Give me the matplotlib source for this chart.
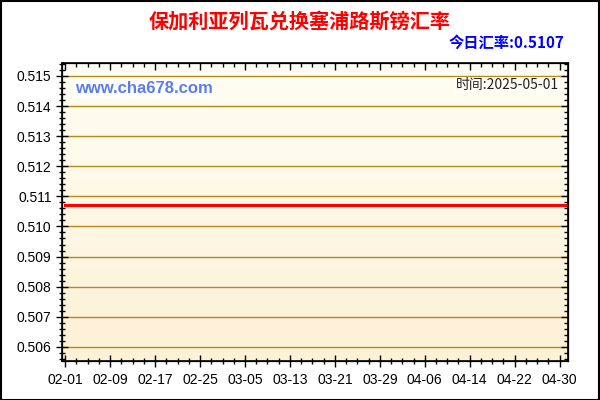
import numpy as np
import pandas as pd
import matplotlib
matplotlib.use("Agg")
import matplotlib.pyplot as plt
import matplotlib.dates as mdates
from matplotlib.patches import Rectangle
from matplotlib.ticker import MultipleLocator, FormatStrFormatter

plt.rcParams['font.family'] = ['Liberation Sans', 'Noto Sans CJK SC', 'DejaVu Sans']

# data
dates = pd.date_range("2025-02-01", "2025-05-01", freq="D")
rates = [0.5107] * len(dates)
tick_dates = pd.date_range("2025-02-01", "2025-04-30", freq="8D")
tick_labels = [d.strftime("%m-%d") for d in tick_dates]
title = "保加利亚列瓦兑换塞浦路斯镑汇率"
today_text = "今日汇率:0.5107"
time_text = "时间:2025-05-01"
site = "www.cha678.com"

fig = plt.figure(figsize=(6, 4), dpi=100)
fig.patch.set_facecolor("white")
fig.add_artist(Rectangle((0.001, 0.001), 0.997, 0.997, transform=fig.transFigure,
                         fill=False, edgecolor="black", lw=1.5))

ax = fig.add_axes([0.1033, 0.0975, 0.8434, 0.745])

# gradient background
grad = np.linspace(0, 1, 256).reshape(-1, 1)
top = np.array([255, 254, 244]) / 255
bot = np.array([253, 241, 214]) / 255
img = top + (bot - top) * grad[:, :, None]
ax.imshow(img, extent=[0, 1, 0, 1], transform=ax.transAxes, aspect="auto", zorder=0)

ylim = (0.50553, 0.51543)
xlim = (dates[0] - pd.Timedelta(hours=14), dates[-1] + pd.Timedelta(hours=12))
ax.set_ylim(*ylim)
ax.set_xlim(*xlim)

ax.yaxis.set_major_locator(MultipleLocator(0.001))
ax.yaxis.set_minor_locator(MultipleLocator(0.0002))
ax.yaxis.set_major_formatter(FormatStrFormatter("%.3f"))
ax.set_xticks(tick_dates)
ax.set_xticklabels(tick_labels)
ax.xaxis.set_minor_locator(mdates.DayLocator(interval=2))

ax.grid(axis="y", which="major", color="#b8861b", lw=1.0, zorder=1)

ax.plot(dates, rates, color="#ff0000", lw=2.2, zorder=3)

ax.tick_params(axis="both", which="major", direction="inout", length=8, width=1,
               labelsize=10, colors="black")
ax.tick_params(axis="both", which="minor", direction="inout", length=5, width=1)
ax.tick_params(axis="x", pad=5)
for s in ax.spines.values():
    s.set_linewidth(1.2)

# inward ticks on the right and top
axr = ax.twinx()
axr.set_ylim(*ylim)
axr.yaxis.set_major_locator(MultipleLocator(0.001))
axr.yaxis.set_minor_locator(MultipleLocator(0.0002))
axr.tick_params(which="major", direction="in", length=5, width=1, labelright=False)
axr.tick_params(which="minor", direction="in", length=3, width=1)
axt = ax.twiny()
axt.set_xlim(*xlim)
axt.set_xticks(tick_dates)
axt.xaxis.set_minor_locator(mdates.DayLocator(interval=2))
axt.tick_params(which="major", direction="in", length=5, width=1, labeltop=False)
axt.tick_params(which="minor", direction="in", length=3, width=1)

fig.text(0.5, 0.948, title, ha="center", va="center", fontsize=14.5, fontweight="bold",
         color="#ff0000", family=["Noto Sans CJK SC", "DejaVu Sans"])
fig.text(0.94, 0.893, today_text, ha="right", va="center", fontsize=11, fontweight="bold",
         color="#0000ff", family=["Noto Sans CJK SC", "DejaVu Sans"])
ax.text(0.025, 0.915, site, transform=ax.transAxes, ha="left", va="center", fontsize=12,
        fontweight="bold", color="#5b7cf0", zorder=4,
        bbox=dict(facecolor="white", edgecolor="none", pad=1.5))
ax.text(0.982, 0.925, time_text, transform=ax.transAxes, ha="right", va="center", fontsize=10,
        color="#222222", zorder=4, family=["Noto Sans CJK SC", "DejaVu Sans"],
        bbox=dict(facecolor="#fffef6", edgecolor="none", pad=1))

fig.savefig("out.png", dpi=100)
